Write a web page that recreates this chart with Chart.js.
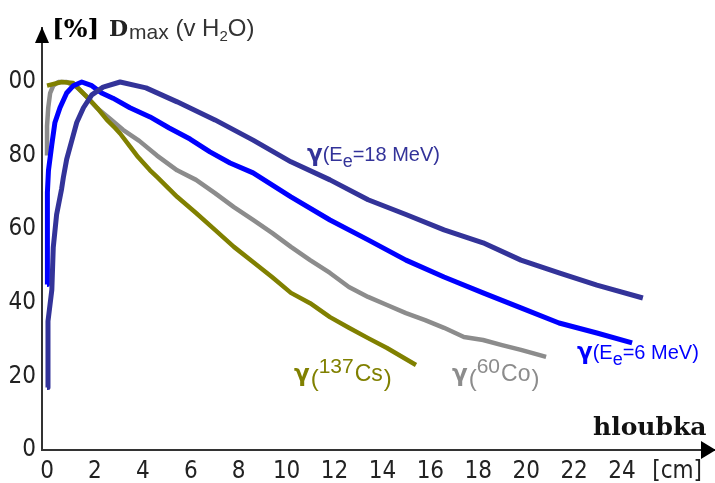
<!DOCTYPE html>
<html>
<head>
<meta charset="utf-8">
<script src="https://cdn.jsdelivr.net/npm/chart.js@4"></script>
<style>
  html, body { margin: 0; padding: 0; background: #fff; }
  #wrap { width: 715px; height: 483px; position: relative; }
</style>
</head>
<body>
<div id="wrap"><canvas id="c"></canvas></div>
<script>
// ============ DATA (hloubka [cm] -> D [% of Dmax]) ============
const xTicks = [0, 2, 4, 6, 8, 10, 12, 14, 16, 18, 20, 22, 24];
const yTicks = [0, 20, 40, 60, 80, 100];

const e18Depth = [0, 0.04, 0.2, 0.26, 0.4, 0.61, 0.68, 0.82, 1.03, 1.24, 1.52, 1.87, 2.34, 3.05, 4.13, 5.43, 7.01, 8.6, 10.18, 11.81, 13.4, 14.98, 16.57, 18.2, 19.78, 21.37, 22.95, 24.87];
const e18Dose  = [17, 35, 43.5, 55, 64, 71, 74, 79, 84, 89, 93, 96.5, 98.6, 100, 98.4, 94.6, 89.7, 84.2, 78.3, 73.4, 68, 64, 59.8, 56.3, 51.6, 48.1, 44.8, 41.3];

const e6Depth = [0, 0, 0.03, 0.06, 0.2, 0.33, 0.54, 0.82, 1.1, 1.45, 1.87, 2.28, 2.75, 3.46, 4.3, 5.1, 5.97, 6.8, 7.64, 8.6, 10.18, 11.81, 13.4, 14.98, 16.57, 18.2, 19.78, 21.37, 22.95, 24.42];
const e6Dose  = [45, 62, 70, 76, 83, 89, 93, 97, 99, 100, 99, 97, 95.6, 93, 90.5, 87.5, 84.5, 81, 78, 75.3, 68.8, 62.5, 57.1, 51.6, 47, 42.7, 38.6, 34.5, 31.8, 29.1];

const coDepth = [0, 0, 0.05, 0.13, 0.26, 0.47, 0.82, 1.24, 1.66, 2.07, 2.63, 3.17, 3.85, 4.59, 5.43, 6.22, 7.01, 7.8, 8.6, 9.39, 10.18, 10.98, 11.81, 12.6, 13.4, 14.19, 14.98, 15.78, 16.57, 17.4, 18.2, 18.99, 19.78, 20.83];
const coDose  = [80, 88, 93, 97, 99, 100, 100, 98.6, 96, 93, 90, 87, 84, 80, 76, 73.4, 69.8, 66, 62.5, 59, 55.2, 51.6, 48.1, 44.3, 41.6, 39.4, 37.2, 35.3, 33.2, 30.7, 29.9, 28.5, 27.2, 25.3];

const csDepth = [0, 0.61, 1.09, 1.38, 1.71, 2.09, 2.5, 2.84, 3.05, 3.46, 3.8, 4.3, 4.59, 5.43, 6.22, 7.01, 7.8, 8.6, 9.39, 10.18, 10.98, 11.81, 12.6, 13.4, 14.19, 15.4];
const csDose  = [99, 100, 99.7, 97.8, 95.6, 93, 89.7, 87.5, 86, 82.5, 79.6, 76, 74.2, 68.8, 64.4, 59.8, 55.2, 51.1, 47, 42.7, 39.9, 36.1, 33.2, 30.4, 27.7, 23.1];

const toPoints = (xs, ys) => xs.map((x, i) => ({ x, y: ys[i] }));

const NARROW = '"Liberation Sans Narrow", "DejaVu Sans Condensed", "Liberation Sans", sans-serif';
const SANS = '"Liberation Sans", Arial, sans-serif';
const SERIF = '"DejaVu Serif", "Liberation Serif", serif';

// ============ TEXT HELPERS ============
function drawRun(ctx, x, y, parts) {
  ctx.textAlign = 'left';
  ctx.textBaseline = 'alphabetic';
  for (const p of parts) {
    ctx.font = p.font;
    ctx.fillStyle = p.color;
    ctx.fillText(p.t, x, y + (p.dy || 0));
    x += ctx.measureText(p.t).width + (p.gap || 0);
  }
}

function eLabel(ctx, x, y, color, energy) {
  drawRun(ctx, x, y, [
    { t: 'γ', font: 'bold 23px "DejaVu Sans"', color },
    { t: '(E', font: '20px ' + SANS, color },
    { t: 'e', font: '18px ' + SANS, color, dy: 6 },
    { t: '=' + energy + ' MeV)', font: '20px ' + SANS, color }
  ]);
}

function isoLabel(ctx, x, y, color, mass, sym) {
  drawRun(ctx, x, y, [
    { t: 'γ', font: 'bold 23px "DejaVu Sans"', color, gap: 1 },
    { t: '(', font: '24px ' + SANS, color, dy: 5 },
    { t: mass, font: '21px ' + SANS, color, dy: -8, gap: 1 },
    { t: sym, font: '23px ' + SANS, color, gap: 1 },
    { t: ')', font: '24px ' + SANS, color, dy: 5 }
  ]);
}

const annotations = {
  id: 'annotations',
  afterDraw(chart) {
    const ctx = chart.ctx;
    const a = chart.chartArea;
    ctx.save();
    // axis arrows
    ctx.fillStyle = '#000';
    ctx.beginPath();
    ctx.moveTo(a.left, 27); ctx.lineTo(a.left - 7, 43); ctx.lineTo(a.left + 7, 43);
    ctx.closePath(); ctx.fill();
    ctx.beginPath();
    ctx.moveTo(716, a.bottom); ctx.lineTo(701, a.bottom - 9); ctx.lineTo(701, a.bottom + 9);
    ctx.closePath(); ctx.fill();

    // axis titles
    drawRun(ctx, 52, 37, [{ t: '[%]', font: 'bold 25px ' + SERIF, color: '#000' }]);
    drawRun(ctx, 109, 36, [
      { t: 'D', font: 'bold 22px ' + SERIF, color: '#222', gap: 1 },
      { t: 'max', font: '21px ' + SANS, color: '#333', dy: 3 },
      { t: ' (v H', font: '24px ' + SANS, color: '#333' },
      { t: '2', font: '15px ' + SANS, color: '#333', dy: 5 },
      { t: 'O)', font: '24px ' + SANS, color: '#333' }
    ]);
    drawRun(ctx, 593, 435, [{ t: 'hloubka', font: 'bold 25px ' + SERIF, color: '#111' }]);

    // curve labels
    eLabel(ctx, 307, 161, '#333399', '18');
    eLabel(ctx, 577, 359, '#0000ff', '6');
    isoLabel(ctx, 294, 381, '#808000', '137', 'Cs');
    isoLabel(ctx, 452, 381, '#8c8c8c', '60', 'Co');
    ctx.restore();
  }
};

const line = (data, color, width, order) => ({
  data, borderColor: color, borderWidth: width, showLine: true,
  pointRadius: 0, tension: 0, fill: false, order,
  borderJoinStyle: 'round', borderCapStyle: 'butt'
});

new Chart(document.getElementById('c'), {
  type: 'scatter',
  data: {
    datasets: [
      line(toPoints(e18Depth, e18Dose), '#333399', 5, 0),
      line(toPoints(e6Depth, e6Dose), '#0000ff', 5, 1),
      line(toPoints(csDepth, csDose), '#808000', 4.5, 2),
      line(toPoints(coDepth, coDose), '#8c8c8c', 4.5, 3)
    ]
  },
  options: {
    responsive: true, maintainAspectRatio: false, animation: false,
    layout: { padding: { top: 28, right: 0, left: 0, bottom: 0 } },
    plugins: { legend: { display: false }, tooltip: { enabled: false } },
    scales: {
      x: {
        type: 'linear', min: -0.21, max: 27.88,
        afterBuildTicks: s => { s.ticks = [...xTicks, 26.3].map(v => ({ value: v })); },
        afterFit: s => { s.height = 33; },
        grid: { display: false, drawTicks: false },
        border: { display: true, color: '#333', width: 2 },
        ticks: {
          autoSkip: false, maxRotation: 0, padding: 7, color: '#222',
          font: { family: NARROW, size: 24 },
          callback: v => v === 26.3 ? '[cm]' : String(v)
        }
      },
      y: {
        type: 'linear', min: 0, max: 114.67,
        afterBuildTicks: s => { s.ticks = yTicks.map(v => ({ value: v })); },
        afterFit: s => { s.width = 42; },
        grid: { display: false, drawTicks: false },
        border: { display: true, color: '#333', width: 2 },
        ticks: {
          autoSkip: false, padding: 6, color: '#222',
          font: { family: NARROW, size: 24 },
          callback: v => v === 100 ? '00' : String(v)
        }
      }
    }
  },
  plugins: [annotations]
});
</script>
</body>
</html>
